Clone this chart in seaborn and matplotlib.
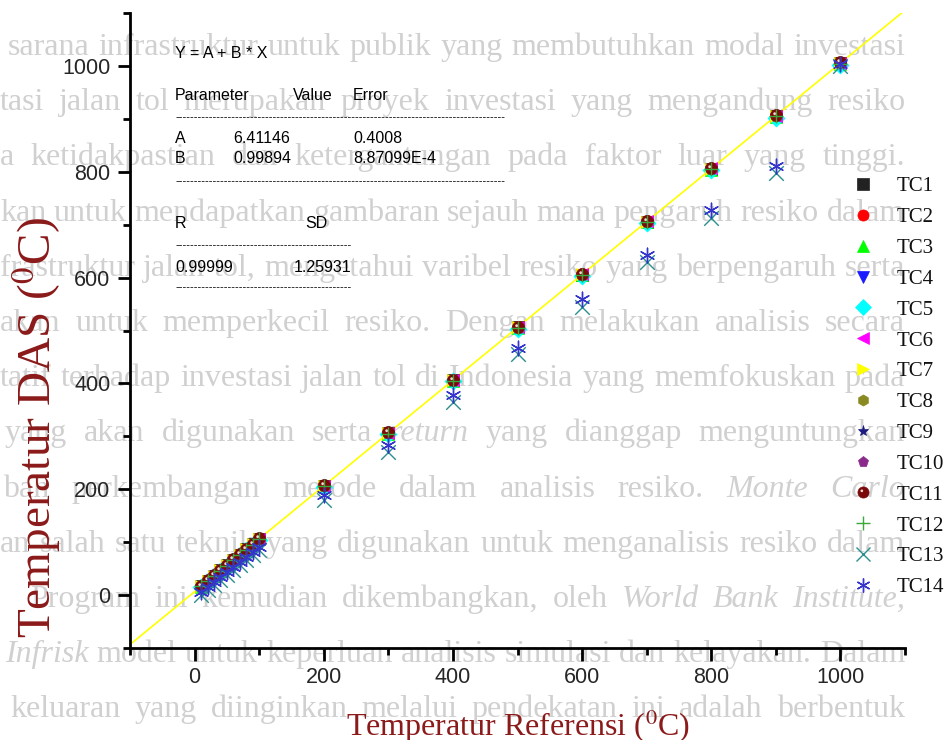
import numpy as np
import pandas as pd
import matplotlib.pyplot as plt
import seaborn as sns
from matplotlib.lines import Line2D
from matplotlib.path import Path
from matplotlib.markers import MarkerStyle
from matplotlib.ticker import MultipleLocator
from matplotlib.font_manager import FontProperties

## data
ref = [10, 20, 30, 40, 50, 60, 70, 80, 90, 100, 200, 300, 400, 500, 600, 700, 800, 900, 1000]

tc1 = [16.8, 26.7, 36.5, 46.6, 56.4, 66.5, 76.3, 86.4, 96.2, 106.1, 206.3, 306.0, 405.8, 505.7, 605.5, 705.4, 805.1, 904.9, 1004.8]
tc2 = [17.2, 27.0, 36.9, 46.8, 56.9, 66.7, 76.8, 86.6, 96.7, 106.6, 206.9, 306.8, 406.5, 506.4, 606.2, 706.1, 805.9, 905.7, 1005.6]
tc3 = [16.1, 26.0, 35.9, 45.8, 55.8, 65.7, 75.6, 85.6, 95.5, 105.4, 205.2, 305.0, 404.8, 504.6, 604.4, 704.2, 804.0, 903.8, 1003.6]
tc4 = [15.4, 25.3, 35.2, 45.1, 55.0, 64.9, 74.8, 84.7, 94.6, 104.5, 204.0, 303.6, 403.1, 502.8, 602.4, 702.0, 801.7, 901.3, 1001.0]
tc5 = [15.8, 25.7, 35.6, 45.5, 55.4, 65.3, 75.2, 85.1, 95.0, 104.9, 204.6, 304.2, 403.9, 503.6, 603.3, 703.0, 802.7, 902.4, 1002.1]
tc6 = [17.5, 27.4, 37.3, 47.2, 57.1, 67.0, 76.9, 86.8, 96.7, 106.6, 206.8, 306.7, 406.6, 506.5, 606.4, 706.3, 806.2, 906.1, 1006.0]
tc7 = [17.0, 26.9, 36.8, 46.7, 56.6, 66.5, 76.4, 86.3, 96.2, 106.1, 206.4, 306.3, 406.2, 506.1, 606.0, 705.9, 805.8, 905.7, 1005.6]
tc8 = [16.6, 26.5, 36.4, 46.3, 56.2, 66.1, 76.0, 85.9, 95.8, 105.7, 205.8, 305.7, 405.6, 505.5, 605.4, 705.3, 805.2, 905.1, 1005.0]
tc9 = [16.4, 26.3, 36.2, 46.1, 56.0, 65.9, 75.8, 85.7, 95.6, 105.5, 205.5, 305.4, 405.3, 505.2, 605.1, 705.0, 804.9, 904.8, 1004.7]
tc10 = [17.8, 27.7, 37.6, 47.5, 57.4, 67.3, 77.2, 87.1, 97.0, 106.9, 207.2, 307.1, 407.0, 506.9, 606.8, 706.7, 806.6, 906.5, 1006.4]
tc11 = [18.0, 27.9, 37.8, 47.7, 57.6, 67.5, 77.4, 87.3, 97.2, 107.1, 207.6, 307.5, 407.4, 507.4, 607.3, 707.2, 807.1, 907.0, 1006.9]
tc12 = [16.3, 26.2, 36.1, 46.0, 55.9, 65.8, 75.7, 85.6, 95.5, 105.4, 205.3, 305.2, 405.1, 505.0, 604.9, 704.8, 804.7, 904.6, 1004.5]
tc13 = [0.5, 10.0, 19.5, 29.0, 38.5, 48.0, 57.5, 67.0, 76.5, 86.0, 180.0, 271.0, 365.0, 455.0, 544.0, 629.0, 713.0, 797.0, 1000.0]
tc14 = [5.5, 15.0, 24.5, 34.0, 43.5, 53.0, 62.5, 72.0, 81.5, 91.0, 189.0, 284.0, 379.0, 467.0, 559.0, 642.0, 728.0, 811.0, 1003.0]

names = ['TC1', 'TC2', 'TC3', 'TC4', 'TC5', 'TC6', 'TC7', 'TC8', 'TC9', 'TC10', 'TC11', 'TC12', 'TC13', 'TC14']
series = [tc1, tc2, tc3, tc4, tc5, tc6, tc7, tc8, tc9, tc10, tc11, tc12, tc13, tc14]

# linear fit reported in the box
fit_a = 6.41146
fit_b = 0.99894
fit_rows = [['A', '6.41146', '0.4008'], ['B', '0.99894', '8.87099E-4']]
stat_row = ['0.99999', '1.25931']

# scanned page text that shows through behind the chart (* = italic)
page_lines = [
    "sarana infrastruktur untuk publik yang membutuhkan modal investasi",
    "tasi jalan tol merupakan proyek investasi yang mengandung resiko",
    "a ketidakpastian dan ketergantungan pada faktor luar yang tinggi.",
    "kan untuk mendapatkan gambaran sejauh mana pengaruh resiko dalam",
    "frastruktur jalan tol, mengetahui varibel resiko yang berpengaruh serta",
    "akan untuk memperkecil resiko. Dengan melakukan analisis secara",
    "tatif terhadap investasi jalan tol di Indonesia yang memfokuskan pada",
    "yang akan digunakan serta *return yang dianggap menguntungkan",
    "bah perkembangan metode dalam analisis resiko. *Monte *Carlo",
    "an salah satu teknik yang digunakan untuk menganalisis resiko dalam",
    "Program ini kemudian dikembangkan, oleh *World *Bank *Institute,",
    "*Infrisk model untuk keperluan analisis simulasi dan kelayakan. Dalam",
    "keluaran yang diinginkan melalui pendekatan ini adalah berbentuk",
]
page_x0 = [8, 0, 0, 0, 0, 0, 0, 5, 3, 0, 30, 5, 10]

W, H = 949, 740
def fx(p):
    return p / W
def fy(p):
    return 1 - p / H

sns.set_theme(style='ticks')
plt.rcParams['font.family'] = ['Liberation Sans', 'DejaVu Sans']
plt.rcParams['mathtext.fontset'] = 'stix'

fig = plt.figure(figsize=(W / 100, H / 100), dpi=100)
fig.patch.set_facecolor('white')
ax = fig.add_axes([fx(130), fy(648), (905 - 130) / W, (648 - 13) / H])
ax.set_facecolor('none')

df = pd.DataFrame({'ref': ref})
for n, s in zip(names, series):
    df[n] = s
df = df.melt(id_vars='ref', var_name='sensor', value_name='das')

ball = '#7a0a0a'
styles = {
    'TC1': ('s', '#222222'),
    'TC2': ('o', '#ff0000'),
    'TC3': ('^', '#00ff00'),
    'TC4': ('v', '#1a1aff'),
    'TC5': ('D', '#00ffff'),
    'TC6': ('<', '#ff00ff'),
    'TC7': ('>', '#ffff00'),
    'TC8': ('h', '#8a8a22'),
    'TC9': ('*', '#1c1c80'),
    'TC10': ('p', '#8a2a8a'),
    'TC11': ('o', ball),
    'TC12': ('+', '#3aa83a'),
    'TC13': ('x', '#2a8f8f'),
    'TC14': ((6, 2, 0), '#3535cc'),
}
hl_marker = MarkerStyle(Path.circle(center=(-0.15, 0.15), radius=0.12))

# fit line across the full axis range
xlim = [-100, 1100]
fit_x = np.array(xlim)
sns.lineplot(x=fit_x, y=fit_a + fit_b * fit_x, color='#ffff00', linewidth=1.2, ax=ax, zorder=2)

handles = []
for i, n in enumerate(names):
    m, c = styles[n]
    sub = df[df.sensor == n]
    filled = MarkerStyle(m).is_filled()
    if filled:
        sns.scatterplot(data=sub, x='ref', y='das', marker=m, color=c, s=75,
                        edgecolor=c, linewidth=0.5, ax=ax, zorder=3 + i)
        h = Line2D([], [], ls='none', marker=m, color=c, markersize=8, markeredgewidth=0.5)
    else:
        sns.scatterplot(data=sub, x='ref', y='das', marker=m, color=c, s=110,
                        linewidth=1.0, ax=ax, zorder=3 + i)
        h = Line2D([], [], ls='none', marker=m, color=c, markersize=10, markeredgewidth=1.0)
    if n == 'TC11':
        sns.scatterplot(data=sub, x='ref', y='das', marker=hl_marker, color='#f0d8d0',
                        s=75 * 0.29, linewidth=0, ax=ax, zorder=3 + i)
        h = (h, Line2D([], [], ls='none', marker=hl_marker, color='#f0d8d0',
                       markersize=8 * 0.54, markeredgewidth=0))
    handles.append(h)

ax.set_xlim(xlim)
ax.set_ylim(-100, 1100)
ax.xaxis.set_major_locator(MultipleLocator(200))
ax.xaxis.set_minor_locator(MultipleLocator(100))
ax.yaxis.set_major_locator(MultipleLocator(200))
ax.yaxis.set_minor_locator(MultipleLocator(100))
ax.tick_params(which='major', length=9, width=2, labelsize=15.5, pad=5, color='black')
ax.tick_params(which='minor', length=5, width=2, color='black')
for sp in ['left', 'bottom']:
    ax.spines[sp].set_linewidth(2)
    ax.spines[sp].set_color('black')
for sp in ['top', 'right']:
    ax.spines[sp].set_visible(False)
ax.set_xlabel('')
ax.set_ylabel('')
ax.grid(False)

leg_font = FontProperties(family='Liberation Serif', size=15)
leg = ax.legend(handles, names, loc='center left', bbox_to_anchor=(fx(829), fy(387)),
                bbox_transform=fig.transFigure, frameon=False, handlelength=1.5,
                handletextpad=0.85, labelspacing=0.54, borderpad=0.4, prop=leg_font)
for t in leg.get_texts():
    t.set_fontfamily('Liberation Serif')
    t.set_color('#111111')

# fit summary box
box_kw = dict(fontsize=11.5, va='baseline', ha='left', color='black')
fig.text(fx(175), fy(58), 'Y = A + B * X', **box_kw)
for lbl, xp in zip(['Parameter', 'Value', 'Error'], [175, 293, 353]):
    fig.text(fx(xp), fy(100), lbl, **box_kw)
for row, yp in zip(fit_rows, [143, 163]):
    for v, xp in zip(row, [175, 233, 353]):
        fig.text(fx(xp), fy(yp), v, **box_kw)
fig.text(fx(175), fy(228), 'R', **box_kw)
fig.text(fx(305), fy(228), 'SD', **box_kw)
for v, xp in zip(stat_row, [175, 294]):
    fig.text(fx(xp), fy(272), v, **box_kw)
dash_kw = dict(fontsize=8, va='baseline', ha='left', color='black')
fig.text(fx(175), fy(120), '-' * 88, **dash_kw)
fig.text(fx(175), fy(184), '-' * 88, **dash_kw)
fig.text(fx(175), fy(248), '-' * 47, **dash_kw)
fig.text(fx(175), fy(290), '-' * 47, **dash_kw)

# axis titles
lab_col = '#8b1a1a'
fig.text(fx(36), fy(428), r'Temperatur DAS ($^{0}$C)', rotation=90, ha='center', va='center',
         family='Liberation Serif', fontsize=34, color=lab_col)
fig.text(fx(518), fy(736), r'Temperatur Referensi ($^{0}$C)', ha='center', va='baseline',
         family='Liberation Serif', fontsize=23, color=lab_col)

# page text behind, justified between the margins
r = fig.canvas.get_renderer()
for i, line in enumerate(page_lines):
    words = line.split(' ')
    base = 55 + i * 55.2
    texts = []
    for w in words:
        it = w.startswith('*')
        t = fig.text(0, fy(base), w.lstrip('*'), family='Liberation Serif', fontsize=23,
                     style='italic' if it else 'normal', color='#d0d0d0', va='baseline',
                     ha='left', zorder=-5)
        texts.append(t)
    widths = [t.get_window_extent(r).width for t in texts]
    x0 = page_x0[i]
    gap = (905 - x0 - sum(widths)) / (len(words) - 1)
    xp = x0
    for t, wd in zip(texts, widths):
        t.set_x(fx(xp))
        xp += wd + gap

fig.savefig('out.png', dpi=100)
